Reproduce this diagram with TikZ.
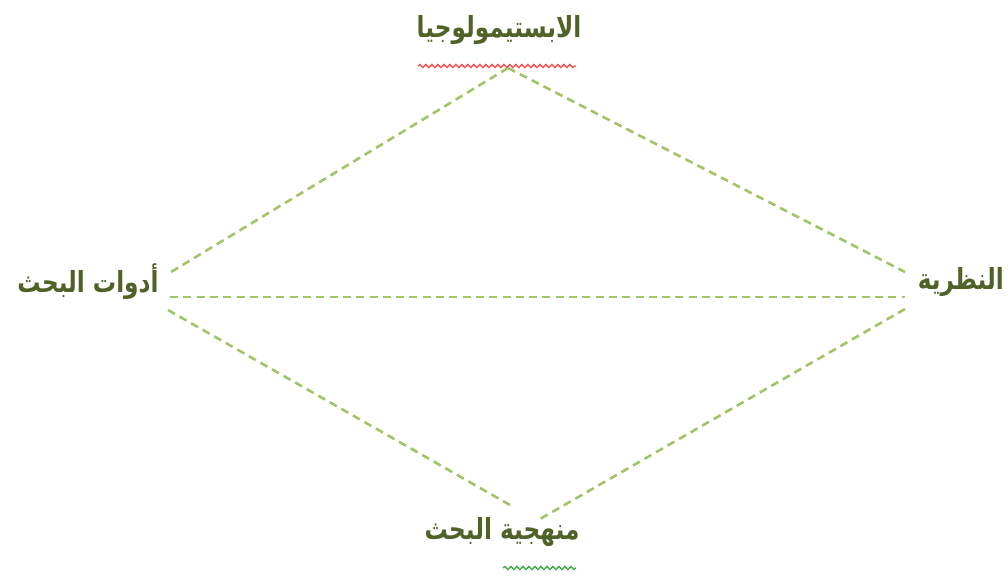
\documentclass[tikz,border=0pt]{standalone}
\usepackage{fontspec}
\usetikzlibrary{decorations.pathmorphing}
\TeXXeTstate=1
\newfontfamily\arabicfont[Script=Arabic,FakeStretch=0.8]{DejaVu Sans}
\definecolor{txtgreen}{HTML}{4F6228}
\definecolor{lnGreen}{HTML}{A3C466}
\definecolor{spellred}{HTML}{FF4A4A}
\definecolor{spellgreen}{HTML}{3DAA45}
\tikzset{
  lbl/.style={text=txtgreen, font=\arabicfont\bfseries\fontsize{29}{32}\selectfont, inner sep=0pt},
  link/.style={draw=lnGreen, line width=2.6pt, dash pattern=on 8pt off 5.3pt},
  wavy/.style={line width=1.3pt, decorate, decoration={snake, segment length=6pt, amplitude=1.6pt}}
}
\begin{document}
\begin{tikzpicture}[x=1pt,y=-1pt]
\useasboundingbox (0,0) rectangle (1008,579);
\node[lbl] (epi) at (499,30) {\beginR الابستيمولوجيا\endR};
\node[lbl] (tools) at (88,282) {\beginR أدوات البحث\endR};
\node[lbl, anchor=east] (theory) at (1004,282) {\beginR النظرية\endR};
\node[lbl] (method) at (502,532) {\beginR منهجية البحث\endR};
\coordinate (top) at (508,68);
\coordinate (lu) at (171,272);
\coordinate (ru) at (905,272);
\coordinate (lm) at (170,297);
\coordinate (rm) at (905,297);
\coordinate (ll) at (168,310);
\coordinate (rl) at (905,309);
\coordinate (bl) at (510,505);
\coordinate (br) at (540,519);
\draw[link] (top) -- (lu);
\draw[link] (top) -- (ru);
\draw[link] (lm) -- (rm);
\draw[link] (ll) -- (bl);
\draw[link] (rl) -- (br);
\coordinate (w1a) at (418,66);
\coordinate (w1b) at (576,66);
\coordinate (w2a) at (503,568);
\coordinate (w2b) at (576,568);
\draw[wavy, spellred] (w1a) -- (w1b);
\draw[wavy, spellgreen] (w2a) -- (w2b);
\end{tikzpicture}
\end{document}
